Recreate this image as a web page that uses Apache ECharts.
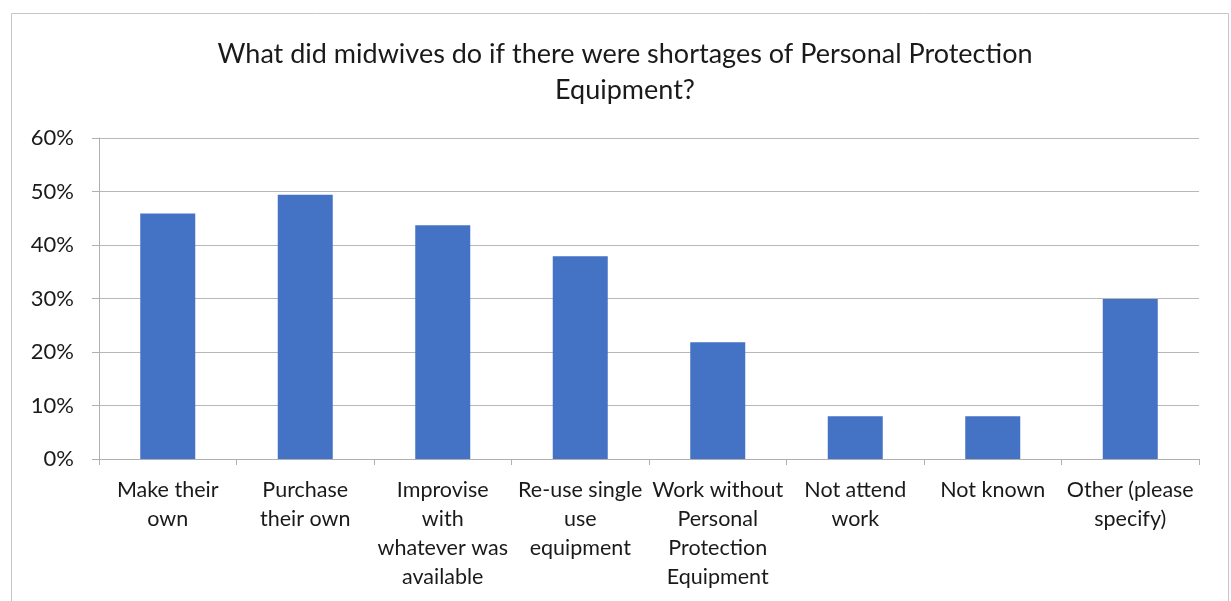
<!DOCTYPE html>
<html><head><meta charset="utf-8">
<script src="https://cdn.jsdelivr.net/npm/echarts@6/dist/echarts.min.js"></script>
<style>html,body{margin:0;padding:0;background:#fff}#c{width:1231px;height:601px}</style>
</head><body><div id="c"></div>
<script>
const titleText = "What did midwives do if there were shortages of Personal Protection\nEquipment?";
const categories = [
  "Make their\nown",
  "Purchase\ntheir own",
  "Improvise\nwith\nwhatever was\navailable",
  "Re-use single\nuse\nequipment",
  "Work without\nPersonal\nProtection\nEquipment",
  "Not attend\nwork",
  "Not known",
  "Other (please\nspecify)"
];
const values = [45.9, 49.4, 43.7, 37.9, 21.8, 8.0, 8.0, 29.9];
const yTicks = { min: 0, max: 60, interval: 10 };

const FONT = "Lato";
const chart = echarts.init(document.getElementById('c'), null, {renderer: 'canvas'});
chart.setOption({
  backgroundColor: '#fff',
  animation: false,
  graphic: [{
    type: 'rect', silent: true,
    shape: {x: 11.5, y: 13.5, width: 1217, height: 620},
    style: {fill: 'none', stroke: '#c6c6c6', lineWidth: 1}
  }],
  title: {
    text: titleText,
    left: 620, top: 31, textAlign: 'center',
    textStyle: {fontFamily: FONT, fontSize: 27, fontWeight: 'normal', color: '#1a1a1a', lineHeight: 36}
  },
  grid: {left: 99, right: 32, top: 138, bottom: 142, containLabel: false},
  xAxis: {
    type: 'category', data: categories,
    axisLine: {lineStyle: {color: '#b0b0b0', width: 1}},
    axisTick: {show: true, alignWithLabel: false, length: 6, lineStyle: {color: '#b0b0b0'}},
    axisLabel: {interval: 0, fontFamily: FONT, fontSize: 21.5, color: '#1a1a1a', lineHeight: 29, margin: 17}
  },
  yAxis: {
    type: 'value', min: yTicks.min, max: yTicks.max, interval: yTicks.interval,
    axisLine: {show: true, lineStyle: {color: '#b0b0b0', width: 1}},
    axisTick: {show: true, length: 7, lineStyle: {color: '#b0b0b0'}},
    splitLine: {lineStyle: {color: '#b8b8b8', width: 1}},
    axisLabel: {formatter: v => v + '%', fontFamily: FONT, fontSize: 22, color: '#1a1a1a', margin: 25}
  },
  series: [{
    type: 'bar', data: values, barWidth: 55,
    itemStyle: {color: '#4472C4'}
  }]
});
</script></body></html>
